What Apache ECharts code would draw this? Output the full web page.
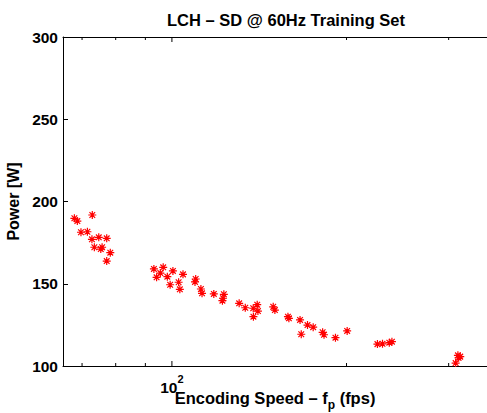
<!DOCTYPE html>
<html>
<head>
<meta charset="utf-8">
<script src="https://cdn.jsdelivr.net/npm/echarts@6/dist/echarts.min.js"></script>
<style>
html,body{margin:0;padding:0;background:#fff;}
#c{width:487px;height:413px;}
</style>
</head>
<body>
<div id="c"></div>
<script>
// Encoding speed (fps) and power (W) for each training sample
const speedFps = [67.9, 68.7, 72.9, 69.7, 71.5, 72.8, 74.8, 77.2, 73.5, 75.4, 75.8, 78.3, 77.2,
  93.1, 96.6, 95.5, 94.1, 98.2, 100.4, 104.5, 99.3, 102.7, 103.2, 109.9, 109.6, 112.2, 112.7,
  118.1, 122.9, 122.5, 122.2, 130.6, 133.8, 138.1, 140.3, 140.7, 138.2, 149.5, 150.5, 158.5,
  159.1, 166.3, 167.1, 171.3, 175.2, 181.9, 182.9, 191.4, 200.5, 226.1, 230.7, 237.0, 239.5,
  311.2, 314.1, 312.1, 308.4];
const powerW = [189.8, 188.1, 191.8, 181.3, 181.6, 177.0, 178.2, 177.6, 172.2, 171.1, 172.2, 168.9, 163.8,
  159.0, 160.0, 156.5, 153.9, 154.3, 157.8, 155.7, 149.4, 150.9, 146.6, 152.9, 151.1, 146.8, 144.2,
  143.8, 143.6, 141.2, 139.7, 138.1, 135.4, 135.1, 137.3, 133.4, 130.0, 136.0, 134.0, 130.0,
  129.0, 128.0, 119.3, 124.9, 123.6, 120.5, 119.0, 117.2, 121.3, 113.3, 113.5, 114.2, 114.8,
  106.5, 105.7, 105.0, 101.8];
const xTicks = [70, 80, 90, 100, 200, 300];
const xMajorTick = 100;
const xMin = 64.9, xMax = 349.3;
const yMin = 100, yMax = 300, yStep = 50;

const points = speedFps.map((s, i) => [s, powerW[i]]);
const FONT = '"Liberation Sans", Arial, Helvetica, sans-serif';
const star = 'path://M0,-5L0,5M-5,0L5,0M-3.54,-3.54L3.54,3.54M-3.54,3.54L3.54,-3.54';

const chart = echarts.init(document.getElementById('c'), null, {renderer: 'svg'});
chart.setOption({
  backgroundColor: '#fff',
  animation: false,
  title: {
    text: 'LCH – SD @ 60Hz Training Set',
    left: 281, top: 6, textAlign: 'center',
    textStyle: {fontFamily: FONT, fontSize: 16.5, fontWeight: 'bold', color: '#000'}
  },
  grid: {left: 63, right: 0, top: 37, bottom: 47, containLabel: false, outerBoundsMode: 'none'},
  xAxis: [{
    type: 'log', min: xMin, max: xMax, position: 'bottom',
    axisLine: {show: true, lineStyle: {color: '#000', width: 1}},
    axisTick: {show: false}, axisLabel: {show: false}, splitLine: {show: false},
    name: '{a|Encoding Speed – f}{s|p}{a| (fps)}',
    nameLocation: 'middle', nameGap: 23,
    nameTextStyle: {
      rich: {
        a: {fontFamily: FONT, fontSize: 16.5, fontWeight: 'bold', color: '#000'},
        s: {fontFamily: FONT, fontSize: 12, fontWeight: 'bold', color: '#000', verticalAlign: 'bottom', padding: [0, 0, -5, 0]}
      }
    }
  }, {
    type: 'log', min: xMin, max: xMax, position: 'top',
    axisLine: {show: true, onZero: false, lineStyle: {color: '#000', width: 1}},
    axisTick: {show: false}, axisLabel: {show: false}, splitLine: {show: false}
  }],
  yAxis: {
    type: 'value', min: yMin, max: yMax, interval: yStep,
    axisLine: {show: true, lineStyle: {color: '#000', width: 1}},
    axisTick: {show: true, inside: true, length: 5, lineStyle: {color: '#000'}},
    axisLabel: {fontFamily: FONT, fontSize: 15.5, fontWeight: 'bold', color: '#000', margin: 5},
    splitLine: {show: false},
    name: 'Power [W]', nameLocation: 'middle', nameGap: 40,
    nameTextStyle: {fontFamily: FONT, fontSize: 16, fontWeight: 'bold', color: '#000'}
  },
  series: [{
    type: 'custom',
    coordinateSystem: 'cartesian2d',
    data: xTicks.map(v => [v]),
    silent: true,
    renderItem: function (params, api) {
      const v = api.value(0);
      const pb = api.coord([v, yMin]);
      const pt = api.coord([v, yMax]);
      const len = v === xMajorTick ? 5 : 3;
      const style = {stroke: '#000', lineWidth: 1};
      return {
        type: 'group',
        children: [
          {type: 'line', shape: {x1: pb[0], y1: pb[1], x2: pb[0], y2: pb[1] - len}, style: style},
          {type: 'line', shape: {x1: pt[0], y1: pt[1], x2: pt[0], y2: pt[1] + len}, style: style}
        ]
      };
    }
  }, {
    type: 'custom',
    coordinateSystem: 'cartesian2d',
    data: [[xMajorTick]],
    silent: true,
    renderItem: function (params, api) {
      const v = api.value(0);
      const p = api.coord([v, yMin]);
      return {
        type: 'text',
        x: p[0], y: p[1] + 7,
        style: {
          text: '{b|10}{s|2}',
          align: 'center', verticalAlign: 'top',
          rich: {
            b: {fontFamily: FONT, fontSize: 15.5, fontWeight: 'bold', fill: '#000', padding: [6, 0, 0, 0]},
            s: {fontFamily: FONT, fontSize: 11, fontWeight: 'bold', fill: '#000', verticalAlign: 'top', padding: [0, 0, 8, 0]}
          }
        }
      };
    }
  }, {
    type: 'scatter',
    data: points,
    symbol: star,
    symbolSize: 8,
    itemStyle: {color: 'rgba(255,0,0,0)', borderColor: '#ff0000', borderWidth: 1.2, opacity: 1},
    silent: true
  }]
});
</script>
</body>
</html>
